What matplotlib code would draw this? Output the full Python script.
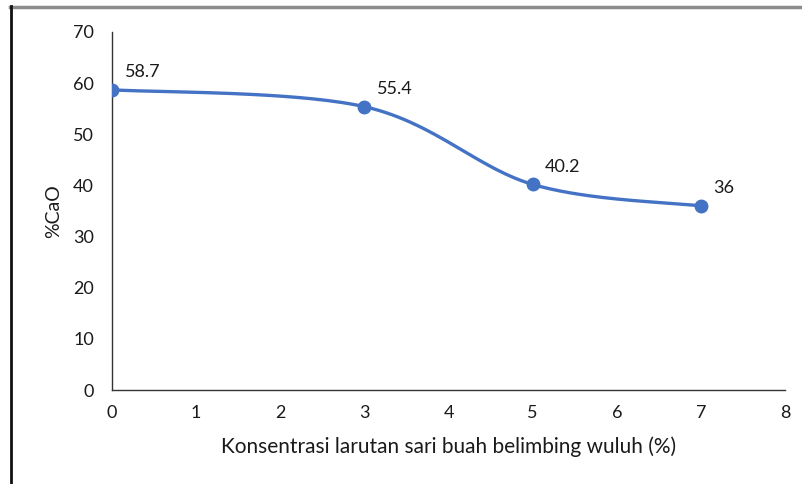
import numpy as np
import matplotlib.pyplot as plt
from matplotlib.lines import Line2D

plt.rcParams['font.family'] = ['Lato', 'DejaVu Sans']

# data
konsentrasi = [0, 3, 5, 7]
cao = [58.7, 55.4, 40.2, 36]
labels = ['58.7', '55.4', '40.2', '36']

blue = '#4472C4'


def smooth(x, y, n=60):
    # Excel-like smoothed line (Catmull-Rom as cubic bezier)
    x = np.asarray(x, float)
    y = np.asarray(y, float)
    px = np.concatenate([[x[0]], x, [x[-1]]])
    py = np.concatenate([[y[0]], y, [y[-1]]])
    t = np.linspace(0, 1, n)[:, None]
    xs, ys = [], []
    for i in range(1, len(px) - 2):
        p0 = np.array([px[i], py[i]])
        p3 = np.array([px[i + 1], py[i + 1]])
        c1 = p0 + (np.array([px[i + 1], py[i + 1]]) - np.array([px[i - 1], py[i - 1]])) / 6
        c2 = p3 - (np.array([px[i + 2], py[i + 2]]) - np.array([px[i], py[i]])) / 6
        b = ((1 - t) ** 3) * p0 + 3 * ((1 - t) ** 2) * t * c1 + 3 * (1 - t) * t ** 2 * c2 + t ** 3 * p3
        xs.append(b[:, 0])
        ys.append(b[:, 1])
    return np.concatenate(xs), np.concatenate(ys)


fig = plt.figure(figsize=(8.02, 4.84), dpi=100)
ax = fig.add_axes([0.1397, 0.1942, 0.8391, 0.7397])

sx, sy = smooth(konsentrasi, cao)
ax.plot(sx, sy, color=blue, lw=2.4, solid_capstyle='round', zorder=2)
ax.plot(konsentrasi, cao, 'o', color=blue, ms=9, zorder=3)

for x, y, s in zip(konsentrasi, cao, labels):
    ax.annotate(s, (x, y), xytext=(9, 7), textcoords='offset points',
                fontsize=13, color='#1a1a1a', ha='left', va='bottom')

ax.set_xlim(0, 8)
ax.set_ylim(0, 70)
ax.set_xticks(range(0, 9))
ax.set_yticks(range(0, 71, 10))
ax.tick_params(length=0, labelsize=13, colors='#1a1a1a', pad=11)
ax.tick_params(axis='y', pad=13)
for s in ['top', 'right']:
    ax.spines[s].set_visible(False)
for s in ['left', 'bottom']:
    ax.spines[s].set_color('#333333')
    ax.spines[s].set_linewidth(1.0)

ax.set_xlabel('Konsentrasi larutan sari buah belimbing wuluh (%)', fontsize=15,
              color='#1a1a1a', labelpad=11)
ax.set_ylabel('%CaO', fontsize=14, color='#1a1a1a', labelpad=8)

# frame pieces of the original screenshot
fig.add_artist(Line2D([10 / 802, 1], [1 - 7 / 484, 1 - 7 / 484], color='#8c8c8c', lw=2.5,
                      transform=fig.transFigure))
fig.add_artist(Line2D([11 / 802, 11 / 802], [0, 1 - 6 / 484], color='#111111', lw=2,
                      transform=fig.transFigure))

fig.savefig('out.png', dpi=100)
